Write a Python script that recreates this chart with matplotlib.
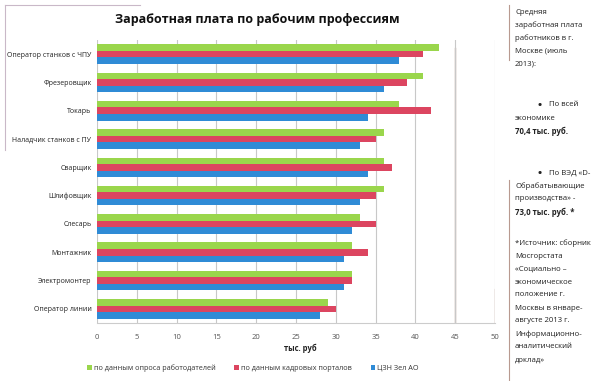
import matplotlib
matplotlib.use("Agg")
import matplotlib.pyplot as plt
import numpy as np

plt.rcParams['font.family'] = ['Open Sans', 'DejaVu Sans']

professions = ["Оператор станков с ЧПУ", "Фрезеровщик", "Токарь",
               "Наладчик станков с ПУ", "Сварщик", "Шлифовщик", "Слесарь",
               "Монтажник", "Электромонтер", "Оператор линии"]
employers = [43, 41, 38, 36, 36, 36, 33, 32, 32, 29]
portals = [41, 39, 42, 35, 37, 35, 35, 34, 32, 30]
czn = [38, 36, 34, 33, 34, 33, 32, 31, 31, 28]
series_names = ["по данным опроса работодателей", "по данным кадровых порталов", "ЦЗН Зел АО"]
colors = ["#9ad64c", "#dc4560", "#2f8bd6"]
x_ticks = [0, 5, 10, 15, 20, 25, 30, 35, 40, 45, 50]

side_text = [
    ("Средняя", False, 12), ("заработная плата", False, 25), ("работников в г.", False, 38),
    ("Москве (июль", False, 51), ("2013):", False, 64),
    ("•По всей", False, 105), ("экономике", False, 118), ("70,4 тыс. руб.", True, 131),
    ("•По ВЭД «D-", False, 173), ("Обрабатывающие", False, 186),
    ("производства» -", False, 199), ("73,0 тыс. руб. *", True, 212),
    ("*Источник: сборник", False, 243), ("Мосгорстата", False, 256), ("«Социально –", False, 269),
    ("экономическое", False, 282), ("положение г.", False, 295), ("Москвы в январе-", False, 308),
    ("августе 2013 г.", False, 321), ("Информационно-", False, 334), ("аналитический", False, 347),
    ("доклад»", False, 360),
]

W, H = 600, 381
fig = plt.figure(figsize=(6, 3.81), dpi=100)
ax = fig.add_axes([97 / W, 1 - 323 / H, 398 / W, 283 / H])

y = np.arange(len(professions))
h = 0.23
for i, (vals, c, name) in enumerate(zip([employers, portals, czn], colors, series_names)):
    ax.barh(y + (i - 1) * h, vals, height=h, color=c, label=name, zorder=3)

ax.set_xlim(0, 50)
ax.set_ylim(len(professions) - 0.5, -0.5)
ax.set_xticks(x_ticks)
ax.set_xticklabels([str(t) for t in x_ticks], fontsize=5.5, color="#555555")
ax.set_yticks(y)
ax.set_yticklabels(professions, fontsize=5, color="#222222")
ax.tick_params(axis="x", length=0, pad=8)
ax.tick_params(axis="y", length=0, pad=4)
ax.grid(axis="x", color="#c8c8c8", linewidth=0.8, zorder=0)
for s in ["top", "right", "left"]:
    ax.spines[s].set_visible(False)
ax.spines["bottom"].set_color("#cccccc")

# scan artefacts: brownish lines near the right of the plot
ax.axvline(45, ymin=0.0, ymax=0.97, color="#b89a90", linewidth=1.0, zorder=1)
ax.axvline(50, ymin=0.0, ymax=0.12, color="#b89a90", linewidth=1.0, zorder=1)

fig.text(257 / W, 1 - 20 / H, "Заработная плата по рабочим профессиям",
         ha="center", va="center", fontsize=9, fontweight="bold", color="#111111")
fig.text(300 / W, 1 - 348 / H, "тыс. руб", ha="center", va="center",
         fontsize=5.5, fontweight="bold", color="#222222")

leg = fig.legend(loc="center", bbox_to_anchor=(253 / W, 1 - 368 / H), ncol=3,
                 fontsize=5.2, frameon=False, handlelength=0.6, handleheight=0.6,
                 handletextpad=0.3, columnspacing=2.6)
for t in leg.get_texts():
    t.set_color("#333333")

# frame around chart area
fig.add_artist(plt.Line2D([5 / W, 5 / W], [1 - 5 / H, 1 - 150 / H], color="#c9b8c8", linewidth=0.8))
fig.add_artist(plt.Line2D([5 / W, 140 / W], [1 - 5 / H, 1 - 5 / H], color="#c9b8c8", linewidth=0.8))
fig.add_artist(plt.Line2D([509 / W, 509 / W], [1 - 5 / H, 1 - 60 / H], color="#b89a90", linewidth=0.8))
fig.add_artist(plt.Line2D([509 / W, 509 / W], [1 - 180 / H, 1 - 381 / H], color="#b89a90", linewidth=0.8))

for txt, bold, py in side_text:
    x = 515
    if txt.startswith("•"):
        fig.text(538 / W, 1 - py / H, "•", ha="left", va="center", fontsize=8,
                 fontweight="bold", color="#222222")
        txt = txt[1:]
        x = 549
    fig.text(x / W, 1 - py / H, txt, ha="left", va="center", fontsize=5.6,
             fontweight="bold" if bold else "normal", color="#222222")

fig.savefig("out.png", dpi=100)
